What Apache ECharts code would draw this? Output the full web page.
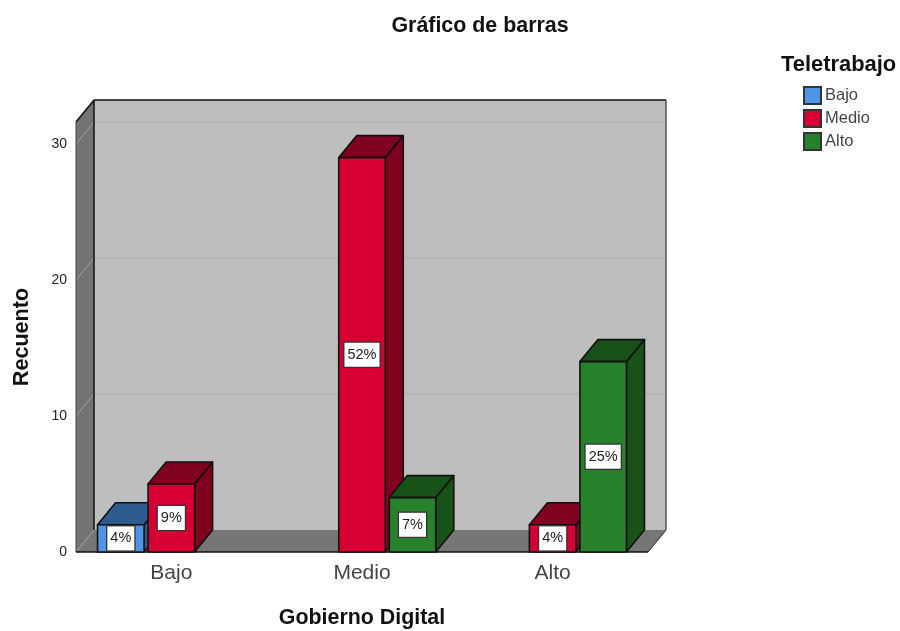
<!DOCTYPE html>
<html><head><meta charset="utf-8">
<style>html,body{margin:0;padding:0;background:#fff}#c{width:900px;height:631px}</style>
<script src="https://cdn.jsdelivr.net/npm/echarts@6/dist/echarts.min.js"></script>
</head><body><div id="c"></div>
<script>
const categories = ['Bajo', 'Medio', 'Alto'];
const yTicks = [0, 10, 20, 30];
const bajoValues = [2, null, null];
const medioValues = [5, 29, 2];
const altoValues = [null, 4, 14];
const bajoLabels = ['4%', null, null];
const medioLabels = ['9%', '52%', '4%'];
const altoLabels = [null, '7%', '25%'];
const FONT = '"Liberation Sans", Arial, sans-serif';
const DX = 18, DY = -22;

function poly(points, fill, stroke, lw) {
  return { type: 'polygon', shape: { points }, style: { fill, stroke: stroke || 'none', lineWidth: lw || 0, lineJoin: 'round' } };
}
function seg(x1, y1, x2, y2, stroke, lw) {
  return { type: 'line', shape: { x1, y1, x2, y2 }, style: { stroke, lineWidth: lw || 1 } };
}
function renderWall(params, api) {
  const cs = params.coordSys;
  const l = cs.x, r = cs.x + cs.width, t = cs.y, b = cs.y + cs.height;
  const children = [
    poly([[l, t], [l + DX, t + DY], [l + DX, b + DY], [l, b]], '#737373'),
    poly([[l + DX, t + DY], [r + DX, t + DY], [r + DX, b + DY], [l + DX, b + DY]], '#bebebe'),
    poly([[l, b], [l + DX, b + DY], [r + DX, b + DY], [r, b]], '#767676'),
    seg(l, b, l + DX, b + DY, '#a0a0a0', 1)
  ];
  yTicks.slice(1).forEach(v => {
    const y = api.coord([0, v])[1];
    children.push(seg(l, y, l + DX, y + DY, '#a6a6a6', 1));
    children.push(seg(l + DX, y + DY, r + DX, y + DY, '#a9a9a9', 1));
  });
  children.push(
    seg(l, t, l + DX, t + DY, '#111', 1.5),
    seg(l + DX, t + DY, r + DX, t + DY, '#111', 1.5),
    seg(l + DX, t + DY, l + DX, b + DY, '#111', 1.5),
    seg(r + DX, t + DY, r + DX, b + DY, '#333', 1.2),
    seg(r + DX, b + DY, r, b, '#222', 1),
    seg(l, t, l, b, '#444', 1),
    seg(l, b, r, b, '#111', 1.5)
  );
  return { type: 'group', children };
}
function barRenderer(slot, front, top, side, labels) {
  return function (params, api) {
    const v = api.value(1);
    if (v === null || v === undefined || isNaN(v)) return null;
    const i = api.value(0);
    const p = api.coord([i, v]);
    const base = api.coord([i, 0])[1];
    const band = api.size([1, 0])[0];
    const cx = p[0] + slot * band * 0.265;
    const w = band * 0.244;
    const x0 = cx - w / 2, x1 = cx + w / 2, y0 = p[1], y1 = base;
    const edge = '#111';
    const text = labels[params.dataIndex];
    return {
      type: 'group',
      children: [
        poly([[x1, y0], [x1 + DX, y0 + DY], [x1 + DX, y1 + DY], [x1, y1]], side, edge, 1.6),
        poly([[x0, y0], [x0 + DX, y0 + DY], [x1 + DX, y0 + DY], [x1, y0]], top, edge, 1.6),
        poly([[x0, y0], [x1, y0], [x1, y1], [x0, y1]], front, edge, 1.6),
        {
          type: 'text', z2: 10,
          style: {
            text, x: cx, y: (y0 + y1) / 2, align: 'center', verticalAlign: 'middle',
            font: '14.5px ' + FONT, fill: '#222', backgroundColor: '#fff',
            borderColor: '#333', borderWidth: 1.3, padding: [5, 3, 4, 3]
          }
        }
      ]
    };
  };
}
function seriesOf(name, values, slot, front, top, side, labels) {
  return {
    type: 'custom', name, clip: false,
    itemStyle: { color: front, borderColor: '#333', borderWidth: 1 },
    encode: { x: 0, y: 1 },
    data: values.map((v, i) => [i, v]),
    renderItem: barRenderer(slot, front, top, side, labels)
  };
}
const chart = echarts.init(document.getElementById('c'), null, { renderer: 'canvas' });
chart.setOption({
  animation: false,
  backgroundColor: '#fff',
  title: [
    { text: 'Gráfico de barras', left: 475, top: 11, textAlign: 'center',
      textStyle: { fontFamily: FONT, fontSize: 21.4, fontWeight: 'bold', color: '#111' } },
    { text: 'Teletrabajo', left: 776, top: 49,
      textStyle: { fontFamily: FONT, fontSize: 21.9, fontWeight: 'bold', color: '#111' } }
  ],
  legend: {
    orient: 'vertical', left: 798, top: 81, itemWidth: 17, itemHeight: 17, itemGap: 4,
    selectedMode: false, icon: 'rect',
    data: ['Bajo', 'Medio', 'Alto'],
    textStyle: { fontFamily: FONT, fontSize: 16.5, lineHeight: 17, color: '#444', padding: [0, 0, 0, -1] }
  },
  grid: { left: 76, top: 122, width: 572, height: 430, containLabel: false, outerBoundsMode: 'none' },
  xAxis: {
    type: 'category', data: categories, boundaryGap: true,
    axisLine: { show: false }, axisTick: { show: false },
    axisLabel: { fontFamily: FONT, fontSize: 21, color: '#444', margin: 11 },
    name: 'Gobierno Digital', nameLocation: 'middle', nameGap: 56,
    nameTextStyle: { fontFamily: FONT, fontSize: 21.4, fontWeight: 'bold', color: '#111' }
  },
  yAxis: {
    type: 'value', min: 0, max: 31.62, interval: 10,
    axisLine: { show: false }, axisTick: { show: false }, splitLine: { show: false },
    axisLabel: { fontFamily: FONT, fontSize: 14, color: '#222', margin: 9, showMaxLabel: false },
    name: 'Recuento', nameLocation: 'middle', nameGap: 43, nameRotate: 90,
    nameTextStyle: { fontFamily: FONT, fontSize: 21.6, fontWeight: 'bold', color: '#111' }
  },
  series: [
    { type: 'custom', name: 'wall', silent: true, clip: false, data: [[0, 0]], encode: { x: 0, y: 1 }, renderItem: renderWall },
    seriesOf('Bajo', bajoValues, -1, '#4f94e6', '#2f5b90', '#2f5b90', bajoLabels),
    seriesOf('Medio', medioValues, 0, '#d60032', '#80001f', '#80001f', medioLabels),
    seriesOf('Alto', altoValues, 1, '#27812a', '#195219', '#195219', altoLabels)
  ]
});
</script></body></html>
